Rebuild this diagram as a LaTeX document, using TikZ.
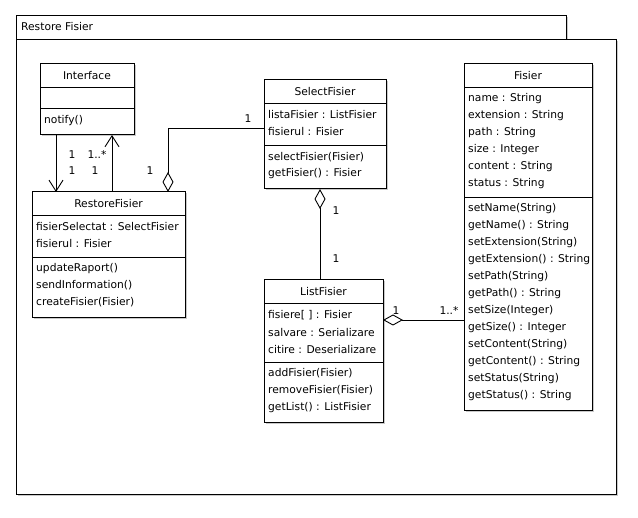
\documentclass[tikz,border=0pt]{standalone}
\usepackage{fontspec}
\setmainfont{DejaVu Sans}
\usetikzlibrary{arrows.meta,shadows}
\tikzset{
  shad/.style={drop shadow={shadow xshift=1.5pt,shadow yshift=-1.5pt,fill=black!35,opacity=0.6}},
  cls/.style={draw,line width=1pt,fill=white,inner sep=0pt,outer sep=0pt,anchor=north west,shad},
  pkg/.style={draw,line width=1pt,fill=white,inner sep=0pt,outer sep=0pt,anchor=north west,shad},
  txt/.style={inner sep=0pt,font=\fontsize{10.7pt}{13pt}\selectfont,anchor=west},
  ttl/.style={inner sep=0pt,font=\fontsize{10.7pt}{13pt}\selectfont},
  lbl/.style={inner sep=0pt,font=\fontsize{10.7pt}{13pt}\selectfont},
  conn/.style={line width=0.9pt},
  nav/.style={conn,-{Straight Barb[length=11pt,width=14pt,line width=0.9pt]}},
  agg/.style={conn,{Diamond[open,length=20pt,width=11pt,line width=0.9pt]}-},
  sep/.style={line width=1pt}
}
\begin{document}
\begin{tikzpicture}[x=1pt,y=-1pt]
\useasboundingbox (0,0) rectangle (638,518);
% package
\node[pkg,minimum width=550pt,minimum height=24pt] (tab) at (16,16) {};
\node[pkg,minimum width=600pt,minimum height=455pt] (body) at (16,40) {};
\node[txt] (pkgname) at (21,27) {Restore Fisier};

% Interface
\node[cls,minimum width=94pt,minimum height=71pt] (intf) at (40,64) {};
\draw[sep] (40,88) -- (134,88);
\draw[sep] (40,109) -- (134,109);
\node[ttl] (intft) at (87,76) {Interface};
\node[txt] (intfm1) at (44,121) {notify()};

% RestoreFisier
\node[cls,minimum width=153pt,minimum height=126pt] (rf) at (32,192) {};
\draw[sep] (32,216) -- (185,216);
\draw[sep] (32,258) -- (185,258);
\node[ttl] (rft) at (108.5,204) {RestoreFisier};
\node[txt] (rfa1) at (36,226.5) {fisierSelectat : SelectFisier};
\node[txt] (rfa2) at (36,243.5) {fisierul : Fisier};
\node[txt] (rfm1) at (36,268.5) {updateRaport()};
\node[txt] (rfm2) at (36,285.5) {sendInformation()};
\node[txt] (rfm3) at (36,302.5) {createFisier(Fisier)};

% SelectFisier
\node[cls,minimum width=122pt,minimum height=109pt] (sel) at (264,80) {};
\draw[sep] (264,104) -- (386,104);
\draw[sep] (264,146) -- (386,146);
\node[ttl] (selt) at (325,92) {SelectFisier};
\node[txt] (sela1) at (268,114.5) {listaFisier : ListFisier};
\node[txt] (sela2) at (268,131.5) {fisierul : Fisier};
\node[txt] (selm1) at (268,157) {selectFisier(Fisier)};
\node[txt] (selm2) at (268,174) {getFisier() : Fisier};

% ListFisier
\node[cls,minimum width=119pt,minimum height=143pt] (lf) at (264,280) {};
\draw[sep] (264,304) -- (383,304);
\draw[sep] (264,363) -- (383,363);
\node[ttl] (lft) at (323.5,292) {ListFisier};
\node[txt] (lfa1) at (268,315.5) {fisiere[ ] : Fisier};
\node[txt] (lfa2) at (268,332.5) {salvare : Serializare};
\node[txt] (lfa3) at (268,349.5) {citire : Deserializare};
\node[txt] (lfm1) at (268,373.5) {addFisier(Fisier)};
\node[txt] (lfm2) at (268,390.5) {removeFisier(Fisier)};
\node[txt] (lfm3) at (268,407.5) {getList() : ListFisier};

% Fisier
\node[cls,minimum width=128pt,minimum height=347pt] (fis) at (464,64) {};
\draw[sep] (464,88) -- (592,88);
\draw[sep] (464,198) -- (592,198);
\node[ttl] (fist) at (528,76) {Fisier};
\node[txt] (fa1) at (468,98.5) {name : String};
\node[txt] (fa2) at (468,115.5) {extension : String};
\node[txt] (fa3) at (468,132.5) {path : String};
\node[txt] (fa4) at (468,149.5) {size : Integer};
\node[txt] (fa5) at (468,166.5) {content : String};
\node[txt] (fa6) at (468,183.5) {status : String};
\node[txt] (fm1) at (468,208.5) {setName(String)};
\node[txt] (fm2) at (468,225.5) {getName() : String};
\node[txt] (fm3) at (468,242.5) {setExtension(String)};
\node[txt] (fm4) at (468,259.5) {getExtension() : String};
\node[txt] (fm5) at (468,276.5) {setPath(String)};
\node[txt] (fm6) at (468,293.5) {getPath() : String};
\node[txt] (fm7) at (468,310.5) {setSize(Integer)};
\node[txt] (fm8) at (468,327.5) {getSize() : Integer};
\node[txt] (fm9) at (468,344.5) {setContent(String)};
\node[txt] (fm10) at (468,361.5) {getContent() : String};
\node[txt] (fm11) at (468,378.5) {setStatus(String)};
\node[txt] (fm12) at (468,395.5) {getStatus() : String};

% connectors
\draw[nav] ([xshift=16pt]intf.south west) -- ([xshift=24pt]rf.north west);
\draw[nav] ([xshift=80pt]rf.north west) -- ([xshift=72pt]intf.south west);
\draw[agg] ([xshift=136pt]rf.north west) |- ([yshift=-48pt]sel.north west);
\draw[agg] ([xshift=56pt]sel.south west) -- ([xshift=56pt]lf.north west);
\draw[agg] ([yshift=-40pt]lf.north east) -- ([yshift=-256pt]fis.north west);

% multiplicities
\node[lbl] (m1) at (72,155) {1};
\node[lbl] (m2) at (72,171) {1};
\node[lbl] (m3) at (97,155) {1..*};
\node[lbl] (m4) at (95,171) {1};
\node[lbl] (m5) at (150,171) {1};
\node[lbl] (m6) at (248,119) {1};
\node[lbl] (m7) at (336,211) {1};
\node[lbl] (m8) at (336,259) {1};
\node[lbl] (m9) at (396,311) {1};
\node[lbl] (m10) at (449,311) {1..*};
\end{tikzpicture}
\end{document}
